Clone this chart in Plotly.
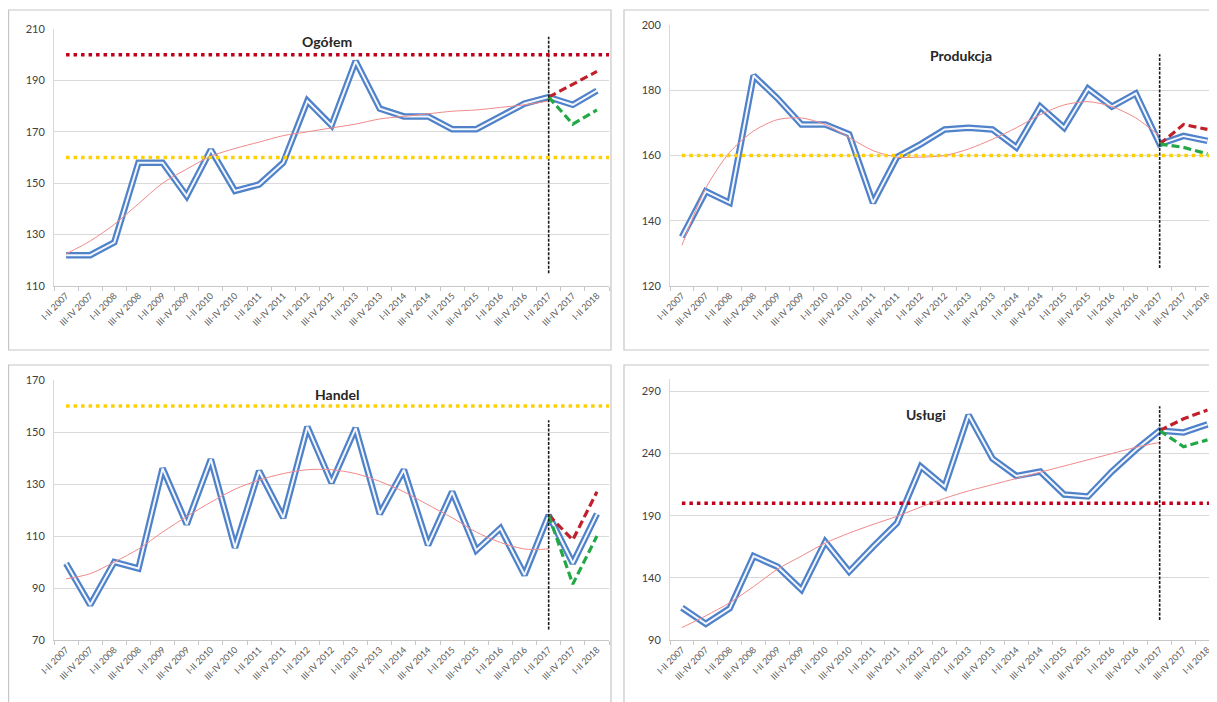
import plotly.graph_objects as go

categories = ["I-II 2007", "III-IV 2007", "I-II 2008", "III-IV 2008", "I-II 2009", "III-IV 2009",
              "I-II 2010", "III-IV 2010", "I-II 2011", "III-IV 2011", "I-II 2012", "III-IV 2012",
              "I-II 2013", "III-IV 2013", "I-II 2014", "III-IV 2014", "I-II 2015", "III-IV 2015",
              "I-II 2016", "III-IV 2016", "I-II 2017", "III-IV 2017", "I-II 2018"]
forecast_categories = ["I-II 2017", "III-IV 2017", "I-II 2018"]

# Ogółem
ogolem_actual = [122, 122, 127, 158, 158, 145, 163, 147, 149.5, 158, 182, 172.5, 197.5, 179, 176, 176,
                 171, 171, 176, 181, 183.5, 180.5, 186]
ogolem_trend = [122.5, 127.5, 134, 142, 150, 155.5, 160.5, 163.5, 166, 168.5, 170, 171.5, 173, 175, 176,
                177, 178, 178.5, 179.5, 180.5, 182]
ogolem_opt = [183.5, 188.5, 193.5]
ogolem_pess = [183.5, 173, 178.5]
ogolem_vline = [115, 207]
ogolem_red_level = [200]
ogolem_yellow_level = [160]

# Produkcja
produkcja_actual = [135, 149, 145.5, 184.5, 177.5, 169.5, 169.5, 166.5, 145.5, 159.5, 163.5, 168, 168.5,
                    168, 162.5, 175, 168.5, 180.5, 175, 179, 163.5, 166, 164.5]
produkcja_trend = [132.5, 150, 161, 167.5, 171, 171.5, 169.5, 165.5, 161.5, 159.5, 159.5, 160, 162, 165,
                   168.5, 172.5, 175.5, 176.5, 175, 171.5, 166]
produkcja_opt = [163.5, 169.5, 168]
produkcja_pess = [163.5, 162.5, 160.5]
produkcja_vline = [125.5, 191]
produkcja_red_level = []
produkcja_yellow_level = [160]

# Handel
handel_actual = [99.5, 83.5, 100, 97.5, 136, 114.5, 139.5, 105.5, 135, 117, 152, 130.5, 151.5, 118.5,
                 135.5, 106.5, 127, 104.5, 113, 95, 118, 99.5, 118.5]
handel_trend = [93.5, 95.5, 100, 105, 111.5, 117.5, 123, 128, 131.5, 134, 135.5, 135.5, 134, 131, 127,
                122, 117, 111.5, 107.5, 105, 105]
handel_opt = [118, 108.5, 127]
handel_pess = [118, 91.5, 110]
handel_vline = [74, 154.5]
handel_red_level = []
handel_yellow_level = [160]

# Usługi
uslugi_actual = [116, 103, 115.5, 157.5, 149, 130.5, 169, 145, 165, 184, 229.5, 213.5, 271, 236, 222,
                 225.5, 207, 205.5, 225.5, 243, 258.5, 257, 263.5]
uslugi_trend = [100, 109.5, 120, 133, 147, 157.5, 168, 176, 183, 189.5, 197, 204, 210, 215, 220, 225,
                230, 235, 240, 245, 249]
uslugi_opt = [258.5, 268, 275]
uslugi_pess = [258.5, 245.5, 251]
uslugi_vline = [106, 278]
uslugi_red_level = [200]
uslugi_yellow_level = []

W, H = 1209, 694
OFF = 8  # page body margin


def fx(p):
    return (p - OFF) / W


def fy(p):
    return 1 - (p - OFF) / H


panels = [
    dict(title="Ogółem", actual=ogolem_actual, trend=ogolem_trend, opt=ogolem_opt, pess=ogolem_pess,
         vline=ogolem_vline, red=ogolem_red_level, yellow=ogolem_yellow_level,
         yrange=[110, 210], tick0=110, dtick=20, xpx=(54, 609), ypx=(286, 29), xmax=22.5,
         tpos=(327, 42), box=(8.6, 10, 611, 350)),
    dict(title="Produkcja", actual=produkcja_actual, trend=produkcja_trend, opt=produkcja_opt,
         pess=produkcja_pess, vline=produkcja_vline, red=produkcja_red_level, yellow=produkcja_yellow_level,
         yrange=[120, 200], tick0=120, dtick=20, xpx=(670, 1217), ypx=(286, 25), xmax=22.4,
         tpos=(961, 56), box=(624, 10, 1230, 350)),
    dict(title="Handel", actual=handel_actual, trend=handel_trend, opt=handel_opt, pess=handel_pess,
         vline=handel_vline, red=handel_red_level, yellow=handel_yellow_level,
         yrange=[70, 170], tick0=70, dtick=20, xpx=(54, 609), ypx=(640, 380), xmax=22.5,
         tpos=(337, 394), box=(8.6, 365, 611, 720)),
    dict(title="Usługi", actual=uslugi_actual, trend=uslugi_trend, opt=uslugi_opt, pess=uslugi_pess,
         vline=uslugi_vline, red=uslugi_red_level, yellow=uslugi_yellow_level,
         yrange=[90, 300], tick0=90, dtick=50, xpx=(670, 1217), ypx=(640, 379), xmax=22.4,
         tpos=(926, 414), box=(624, 365, 1230, 720)),
]

BLUE = "#5082CA"
FONT = "Lato, Liberation Sans, sans-serif"

fig = go.Figure()
shapes = []
annotations = []
layout_axes = {}

for i, p in enumerate(panels):
    n = "" if i == 0 else str(i + 1)
    xa, ya = "x" + n, "y" + n
    # panel border
    bx0, by0, bx1, by1 = p["box"]
    shapes.append(dict(type="rect", xref="paper", yref="paper", x0=fx(bx0), x1=fx(bx1),
                       y0=fy(by1), y1=fy(by0), line=dict(color="#C6C6C6", width=1.2),
                       fillcolor="rgba(0,0,0,0)", layer="below"))
    # reference levels (drawn over the series, as in the original)
    for lv in p["red"]:
        shapes.append(dict(type="line", xref=xa + " domain", yref=ya, x0=0.5 / 23, x1=1, y0=lv, y1=lv,
                           line=dict(color="#C0001A", width=3.5, dash="3.5px,4px"), layer="above"))
    for lv in p["yellow"]:
        shapes.append(dict(type="line", xref=xa + " domain", yref=ya, x0=0.5 / 23, x1=1, y0=lv, y1=lv,
                           line=dict(color="#FFD000", width=3.5, dash="3.5px,4px"), layer="above"))

    # actual series: double line
    fig.add_trace(go.Scatter(x=categories, y=p["actual"], mode="lines", xaxis=xa, yaxis=ya,
                             line=dict(color=BLUE, width=6.5), hoverinfo="skip", showlegend=False))
    fig.add_trace(go.Scatter(x=categories, y=p["actual"], mode="lines", xaxis=xa, yaxis=ya,
                             line=dict(color="#F4F8FE", width=2), hoverinfo="skip", showlegend=False))
    # trend
    fig.add_trace(go.Scatter(x=categories[:len(p["trend"])], y=p["trend"], mode="lines", xaxis=xa,
                             yaxis=ya, line=dict(color="#F08A8A", width=1, shape="spline", smoothing=0.8),
                             hoverinfo="skip", showlegend=False))
    # forecasts
    fig.add_trace(go.Scatter(x=forecast_categories, y=p["opt"], mode="lines", xaxis=xa, yaxis=ya,
                             line=dict(color="#C0202A", width=3.2, dash="8px,4px"),
                             hoverinfo="skip", showlegend=False))
    fig.add_trace(go.Scatter(x=forecast_categories, y=p["pess"], mode="lines", xaxis=xa, yaxis=ya,
                             line=dict(color="#22A845", width=3.2, dash="8px,4px"),
                             hoverinfo="skip", showlegend=False))
    # vertical marker line
    fig.add_trace(go.Scatter(x=[forecast_categories[0]] * 2, y=p["vline"], mode="lines", xaxis=xa,
                             yaxis=ya, line=dict(color="#1A1A1A", width=1.6, dash="3px,1.5px"),
                             hoverinfo="skip", showlegend=False))

    x0, x1 = p["xpx"]
    yb, yt = p["ypx"]
    layout_axes["xaxis" + n] = dict(
        domain=[fx(x0), min(fx(x1), 1.0)], anchor=ya, type="category", range=[-0.5, p["xmax"]],
        showgrid=False, showline=True, linecolor="#C8C8C8", linewidth=1,
        ticks="outside", tickson="boundaries", ticklen=4, tickcolor="#C8C8C8",
        tickangle=-45, tickfont=dict(family=FONT, size=9, color="#595959"), zeroline=False,
        automargin=False, fixedrange=True)
    layout_axes["yaxis" + n] = dict(
        domain=[max(fy(yb), 0.0), fy(yt)], anchor=xa, range=p["yrange"], tick0=p["tick0"],
        dtick=p["dtick"], showgrid=True, gridcolor="#D9D9D9", gridwidth=1, showline=True,
        linecolor="#D9D9D9", zeroline=False, ticks="", ticklabelstandoff=6,
        tickfont=dict(family=FONT, size=11, color="#404040"),
        automargin=False, fixedrange=True)
    tx, ty = p["tpos"]
    annotations.append(dict(text="<b>" + p["title"] + "</b>", xref="paper", yref="paper",
                            x=fx(tx), y=fy(ty), xanchor="center", yanchor="middle", showarrow=False,
                            font=dict(family=FONT, size=14, color="#262626")))

fig.update_layout(
    width=W, height=H, margin=dict(l=0, r=0, t=0, b=0, autoexpand=False), autosize=False,
    paper_bgcolor="white", plot_bgcolor="white", showlegend=False,
    shapes=shapes, annotations=annotations, **layout_axes)

fig.write_html("out.html", config=dict(displayModeBar=False))
